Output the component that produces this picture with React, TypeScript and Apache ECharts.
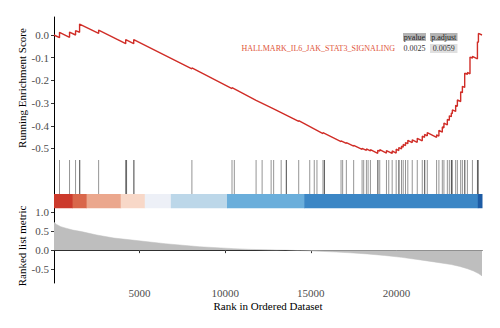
import React, { useEffect, useRef } from "react";
import * as echarts from "echarts";

const N_GENES = 25000;
const X_TICKS = [5000, 10000, 15000, 20000];
const ES_TICKS = [-0.5, -0.4, -0.3, -0.2, -0.1, 0.0];
const METRIC_TICKS = [-0.5, 0.0, 0.5, 1.0];

const GENE_SET = "HALLMARK_IL6_JAK_STAT3_SIGNALING";
const TABLE_HEADERS = ["pvalue", "p.adjust"];
const TABLE_VALUES = ["0.0025", "0.0059"];

// Running enrichment score [rank, ES]
const ES_CURVE: [number, number][] = [
  [0, 0.0],
  [322, -0.012], [322, 0.012],
  [908, -0.010], [908, 0.013],
  [1259, 0.0], [1259, 0.019],
  [1494, 0.012], [1494, 0.048],
  [2607, 0.007], [2607, 0.022],
  [4189, -0.038], [4189, -0.020],
  [4657, -0.038], [4657, -0.020],
  [8055, -0.149], [8055, -0.145],
  [10398, -0.236], [10398, -0.232],
  [11804, -0.288], [11804, -0.285],
  [12830, -0.325], [12830, -0.322],
  [14294, -0.381], [14294, -0.377],
  [15711, -0.434], [15711, -0.430],
  [16766, -0.470], [16766, -0.466],
  [17077, -0.478], [17077, -0.474],
  [17504, -0.490], [17504, -0.486],
  [17996, -0.504], [17996, -0.499],
  [18248, -0.508], [18248, -0.502],
  [18482, -0.511], [18482, -0.505],
  [18910, -0.521], [18910, -0.508],
  [19027, -0.512], [19027, -0.505],
  [19419, -0.520], [19419, -0.509],
  [19753, -0.522], [19753, -0.511],
  [19987, -0.520], [19987, -0.503],
  [20140, -0.509], [20140, -0.496],
  [20298, -0.502], [20298, -0.490],
  [20398, -0.494], [20398, -0.482],
  [20532, -0.487], [20532, -0.474],
  [20667, -0.479], [20667, -0.464],
  [20925, -0.474], [20925, -0.462],
  [21218, -0.473], [21218, -0.455],
  [21511, -0.466], [21511, -0.446],
  [21646, -0.451], [21646, -0.438],
  [21804, -0.444], [21804, -0.430],
  [22348, -0.451], [22348, -0.440],
  [22483, -0.445], [22483, -0.420],
  [22682, -0.428], [22682, -0.405],
  [22776, -0.409], [22776, -0.388],
  [22975, -0.396], [22975, -0.372],
  [23092, -0.376], [23092, -0.356],
  [23209, -0.360], [23209, -0.344],
  [23268, -0.346], [23268, -0.330],
  [23461, -0.337], [23461, -0.310],
  [23561, -0.314], [23561, -0.286],
  [23754, -0.293], [23754, -0.250],
  [23854, -0.254], [23854, -0.226],
  [23989, -0.231], [23989, -0.168],
  [24147, -0.174], [24147, -0.165],
  [24299, -0.171], [24299, -0.097],
  [24440, -0.102], [24440, -0.094],
  [24733, -0.105], [24733, -0.030],
  [24791, -0.032], [24791, 0.007],
  [25000, 0.0],
];

// Ranks of gene-set members (hits)
const HITS = [
  322, 908, 1259, 1494, 1510, 2607, 4189, 4215, 4240, 4657, 4675, 8055,
  10398, 10533, 11804, 12156, 12683, 12830, 13269, 13562, 13580, 14294,
  14938, 15202, 15360, 15711, 15788, 15800, 16766, 16860, 17077, 17504,
  17996, 18090, 18248, 18347, 18482, 18910, 18925, 19027, 19419, 19554,
  19753, 19987, 20140, 20155, 20298, 20398, 20532, 20667, 20925, 21218,
  21511, 21646, 21660, 21804, 22348, 22483, 22682, 22776, 22975, 23092,
  23209, 23220, 23268, 23461, 23561, 23754, 23854, 23989, 24000, 24147,
  24440, 24733, 24745, 24791,
];

// Ranked list metric [rank, value]
const METRIC: [number, number][] = [
  [0, 0.74], [150, 0.68], [400, 0.62], [700, 0.58], [1100, 0.53],
  [1600, 0.49], [2500, 0.40], [3500, 0.32], [4700, 0.26], [6500, 0.17],
  [8500, 0.09], [10500, 0.04], [11500, 0.02], [12500, 0.008], [13500, 0.0],
  [14400, -0.012], [15500, -0.03], [16500, -0.05], [17300, -0.07],
  [18300, -0.10], [19300, -0.14], [20300, -0.19], [21200, -0.245],
  [22200, -0.31], [23200, -0.38], [23700, -0.43], [24150, -0.49],
  [24500, -0.55], [24800, -0.62], [25000, -0.68],
];

// Colour bar segment boundaries (ranks)
const BAR_BREAKS = [0, 1084, 1904, 3896, 5302, 6825, 10105, 14616, 24755, 25000];

// styles
const BAR_COLORS = ["#cc3a2c", "#d9674b", "#eba78d", "#f8d8c8", "#edf0f7", "#bcd7e9", "#6aaedb", "#3b86c5", "#1d5ca5"];
const FONT = "Liberation Serif";
const ES_COLOR = "#d02d27";
const HIT_LOW = 0.3;
const HIT_HIGH = 0.98;
const BAR_LOW = 0.015;

function txt(text: string, x: number, y: number, size: number, fill: string, align: string, rotate = 0) {
  return {
    type: "text", x, y, rotation: rotate,
    style: {
      text, fontFamily: FONT, fontSize: size, fontWeight: "normal", fill,
      textAlign: align, textVerticalAlign: "middle",
    },
  };
}

export default function App() {
  const ref = useRef<HTMLDivElement>(null);
  useEffect(() => {
    if (!ref.current) return;
    const chart = echarts.init(ref.current, null, { renderer: "svg" });
    const segs = BAR_COLORS.map((c, i) => [BAR_BREAKS[i], BAR_BREAKS[i + 1], i]);
    const axisLabelBase = { fontFamily: FONT, fontSize: 11, color: "#4d4d4d" };
    const gridCommon = { left: 54, right: 18 };
    const fmt = (v: number) => (Math.abs(v) < 1e-9 ? "0.0" : v.toFixed(1));
    const option: any = {
      animation: false,
      backgroundColor: "#fff",
      grid: [
        { ...gridCommon, top: 17, height: 142 },
        { ...gridCommon, top: 159, height: 50 },
        { ...gridCommon, top: 209, height: 74 },
      ],
      xAxis: [
        { gridIndex: 0, type: "value", min: 0, max: N_GENES, show: false },
        { gridIndex: 1, type: "value", min: 0, max: N_GENES, show: false },
        {
          gridIndex: 2, type: "value", min: 0, max: N_GENES,
          axisLine: { show: true, lineStyle: { color: "#000", width: 1 } },
          axisTick: { show: true, length: 3, customValues: X_TICKS, lineStyle: { color: "#333" } },
          axisLabel: { ...axisLabelBase, margin: 4, customValues: X_TICKS, formatter: (v: number) => String(v) },
          splitLine: { show: false },
        },
      ],
      yAxis: [
        {
          gridIndex: 0, type: "value", min: -0.5463, max: 0.0793,
          axisLine: { show: true, lineStyle: { color: "#000", width: 1 } },
          axisTick: { show: true, length: 3, customValues: ES_TICKS, lineStyle: { color: "#333" } },
          axisLabel: { ...axisLabelBase, margin: 5, customValues: ES_TICKS, formatter: fmt },
          splitLine: { show: false },
        },
        {
          gridIndex: 1, type: "value", min: 0, max: 1,
          axisLine: { show: true, lineStyle: { color: "#000", width: 1 } },
          axisTick: { show: false }, axisLabel: { show: false }, splitLine: { show: false },
        },
        {
          gridIndex: 2, type: "value", min: -0.868, max: 1.087,
          axisLine: { show: true, lineStyle: { color: "#000", width: 1 } },
          axisTick: { show: true, length: 3, customValues: METRIC_TICKS, lineStyle: { color: "#333" } },
          axisLabel: { ...axisLabelBase, margin: 5, customValues: METRIC_TICKS, formatter: fmt },
          splitLine: { show: false },
        },
      ],
      series: [
        {
          type: "line", xAxisIndex: 0, yAxisIndex: 0, data: ES_CURVE,
          showSymbol: false, symbol: "none",
          lineStyle: { color: ES_COLOR, width: 1.4 },
        },
        {
          type: "custom", xAxisIndex: 1, yAxisIndex: 1, data: segs,
          renderItem: (params: any, api: any) => {
            const s = api.value(0), e = api.value(1), ci = api.value(2);
            const p1 = api.coord([s, HIT_LOW]);
            const p2 = api.coord([e, BAR_LOW]);
            return {
              type: "rect",
              shape: { x: p1[0], y: p1[1], width: p2[0] - p1[0] + 0.5, height: p2[1] - p1[1] },
              style: { fill: BAR_COLORS[ci] },
            };
          },
        },
        {
          type: "custom", xAxisIndex: 1, yAxisIndex: 1, data: HITS.map((r) => [r, 0]),
          renderItem: (params: any, api: any) => {
            const x = api.value(0);
            const a = api.coord([x, HIT_LOW]);
            const b = api.coord([x, HIT_HIGH]);
            return {
              type: "line",
              shape: { x1: a[0], y1: a[1], x2: b[0], y2: b[1] },
              style: { stroke: "rgba(0,0,0,0.42)", lineWidth: 1 },
            };
          },
        },
        {
          type: "line", xAxisIndex: 2, yAxisIndex: 2, data: METRIC,
          showSymbol: false, symbol: "none",
          lineStyle: { color: "#bebebe", width: 0.5 },
          areaStyle: { color: "#bebebe", opacity: 1 },
        },
      ],
      graphic: [
        txt("Running Enrichment Score", 22, 88, 11, "#000", "center", Math.PI / 2),
        txt("Ranked list metric", 22, 246, 11, "#000", "center", Math.PI / 2),
        txt("Rank in Ordered Dataset", 268, 306, 11, "#000", "center"),
        txt(GENE_SET, 395, 48.5, 8, "#e0553a", "right"),
        { type: "rect", shape: { x: 403, y: 33, width: 23, height: 8 }, style: { fill: "#b3b3b3" } },
        { type: "rect", shape: { x: 430, y: 33, width: 27.5, height: 8 }, style: { fill: "#b3b3b3" } },
        { type: "rect", shape: { x: 430, y: 44, width: 27.5, height: 9 }, style: { fill: "#e0e0e0" } },
        txt(TABLE_HEADERS[0], 414.5, 37, 8, "#222", "center"),
        txt(TABLE_HEADERS[1], 443.7, 37, 8, "#222", "center"),
        txt(TABLE_VALUES[0], 414.5, 48.5, 8, "#333", "center"),
        txt(TABLE_VALUES[1], 443.7, 48.5, 8, "#333", "center"),
      ],
    };
    chart.setOption(option);
    return () => chart.dispose();
  }, []);
  return <div ref={ref} style={{ width: 500, height: 328, position: "absolute", left: 0, top: 0 }} />;
}
